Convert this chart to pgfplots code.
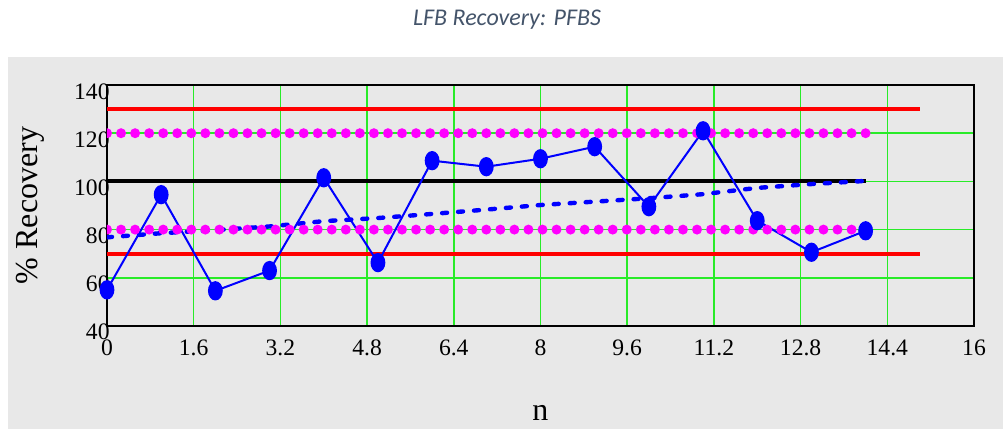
\documentclass[border=0pt]{standalone}
\usepackage{pgfplots}
\pgfplotsset{compat=1.18}
\usepackage{fontspec}
\setmainfont{Liberation Serif}
\newfontfamily\titlefont{Carlito}
\definecolor{panelgray}{RGB}{232,232,232}
\definecolor{gridgreen}{RGB}{40,235,40}
\definecolor{titlecol}{RGB}{68,84,106}
\definecolor{mag}{RGB}{255,0,255}
\definecolor{pblue}{RGB}{0,0,255}
\definecolor{pred}{RGB}{255,0,0}
\begin{document}
\begin{tikzpicture}
\useasboundingbox (0,0) rectangle (501.5pt,214.5pt);
\fill[panelgray] (4pt,0) rectangle (501.5pt,185.8pt);
\node[anchor=base, inner sep=0pt, font=\titlefont\itshape\fontsize{12}{14}\selectfont, text=titlecol] at (253.5pt,201.6pt) {LFB Recovery: PFBS};
\begin{axis}[
  at={(53.5pt,51.5pt)}, anchor=south west,
  scale only axis, width=433.5pt, height=120.5pt,
  xmin=0, xmax=16, ymin=40, ymax=140,
  xtick={0,1.6,3.2,4.8,6.4,8,9.6,11.2,12.8,14.4,16},
  ytick={40,60,80,100,120,140},
  xticklabels={0,1.6,3.2,4.8,6.4,8,9.6,11.2,12.8,14.4,16},
  /pgf/number format/assume math mode=true,
  major tick length=0pt,
  grid=major,
  major grid style={gridgreen, line width=0.75pt},
  axis line style={black, line width=1pt},
  tick label style={font=\fontsize{11.8}{12}\selectfont},
  xticklabel style={anchor=base, inner sep=0pt, yshift=-15pt},
  yticklabel style={anchor=base east, inner sep=0pt, xshift=1.5pt, yshift=-7pt},
  xlabel={n},
  xlabel style={at={(axis description cs:0.5,0)}, anchor=center, yshift=-43.5pt, font=\fontsize{16}{18}\selectfont},
  ylabel={\% Recovery},
  ylabel style={at={(axis description cs:0,0.5)}, anchor=center, yshift=38.5pt, font=\fontsize{16}{18}\selectfont},
]
% control limits
\addplot[pred, line width=2pt, no markers] coordinates {(0,130) (15,130)};
\addplot[pred, line width=2pt, no markers] coordinates {(0,70) (15,70)};
% target
\addplot[black, line width=2pt, no markers] coordinates {(0,100) (14,100)};
% trend
\addplot[pblue, line width=2.2pt, no markers, line cap=round, dash pattern=on 2.5pt off 5.5pt] coordinates {
(0,76.8) (1,78.5) (2,79.8) (3,81.3) (4,83.5) (5,84.8) (6,86.5) (7,88.3)
(8,90.2) (9,91.6) (10,93) (11,94.7) (12,97.3) (13,98.9) (14,100.2)};
% data
\addplot[pblue, line width=1pt, mark=*, mark size=3.2pt, mark options={solid, yscale=1.35, fill=pblue}] coordinates {
(0,55) (1,94.5) (2,54.6) (3,63) (4,101.5) (5,66.3) (6,108.6) (7,106.1)
(8,109.4) (9,114.4) (10,89.5) (11,121) (12,83.7) (13,70.6) (14,79.5)};
% warning limits (dotted)
\addplot[mag, line width=5pt, no markers, line cap=round, dash pattern=on 0pt off 7.024pt] coordinates {(0,120) (14,120)};
\addplot[mag, line width=5pt, no markers, line cap=round, dash pattern=on 0pt off 7.024pt] coordinates {(0,80) (14,80)};
\end{axis}
\end{tikzpicture}
\end{document}
